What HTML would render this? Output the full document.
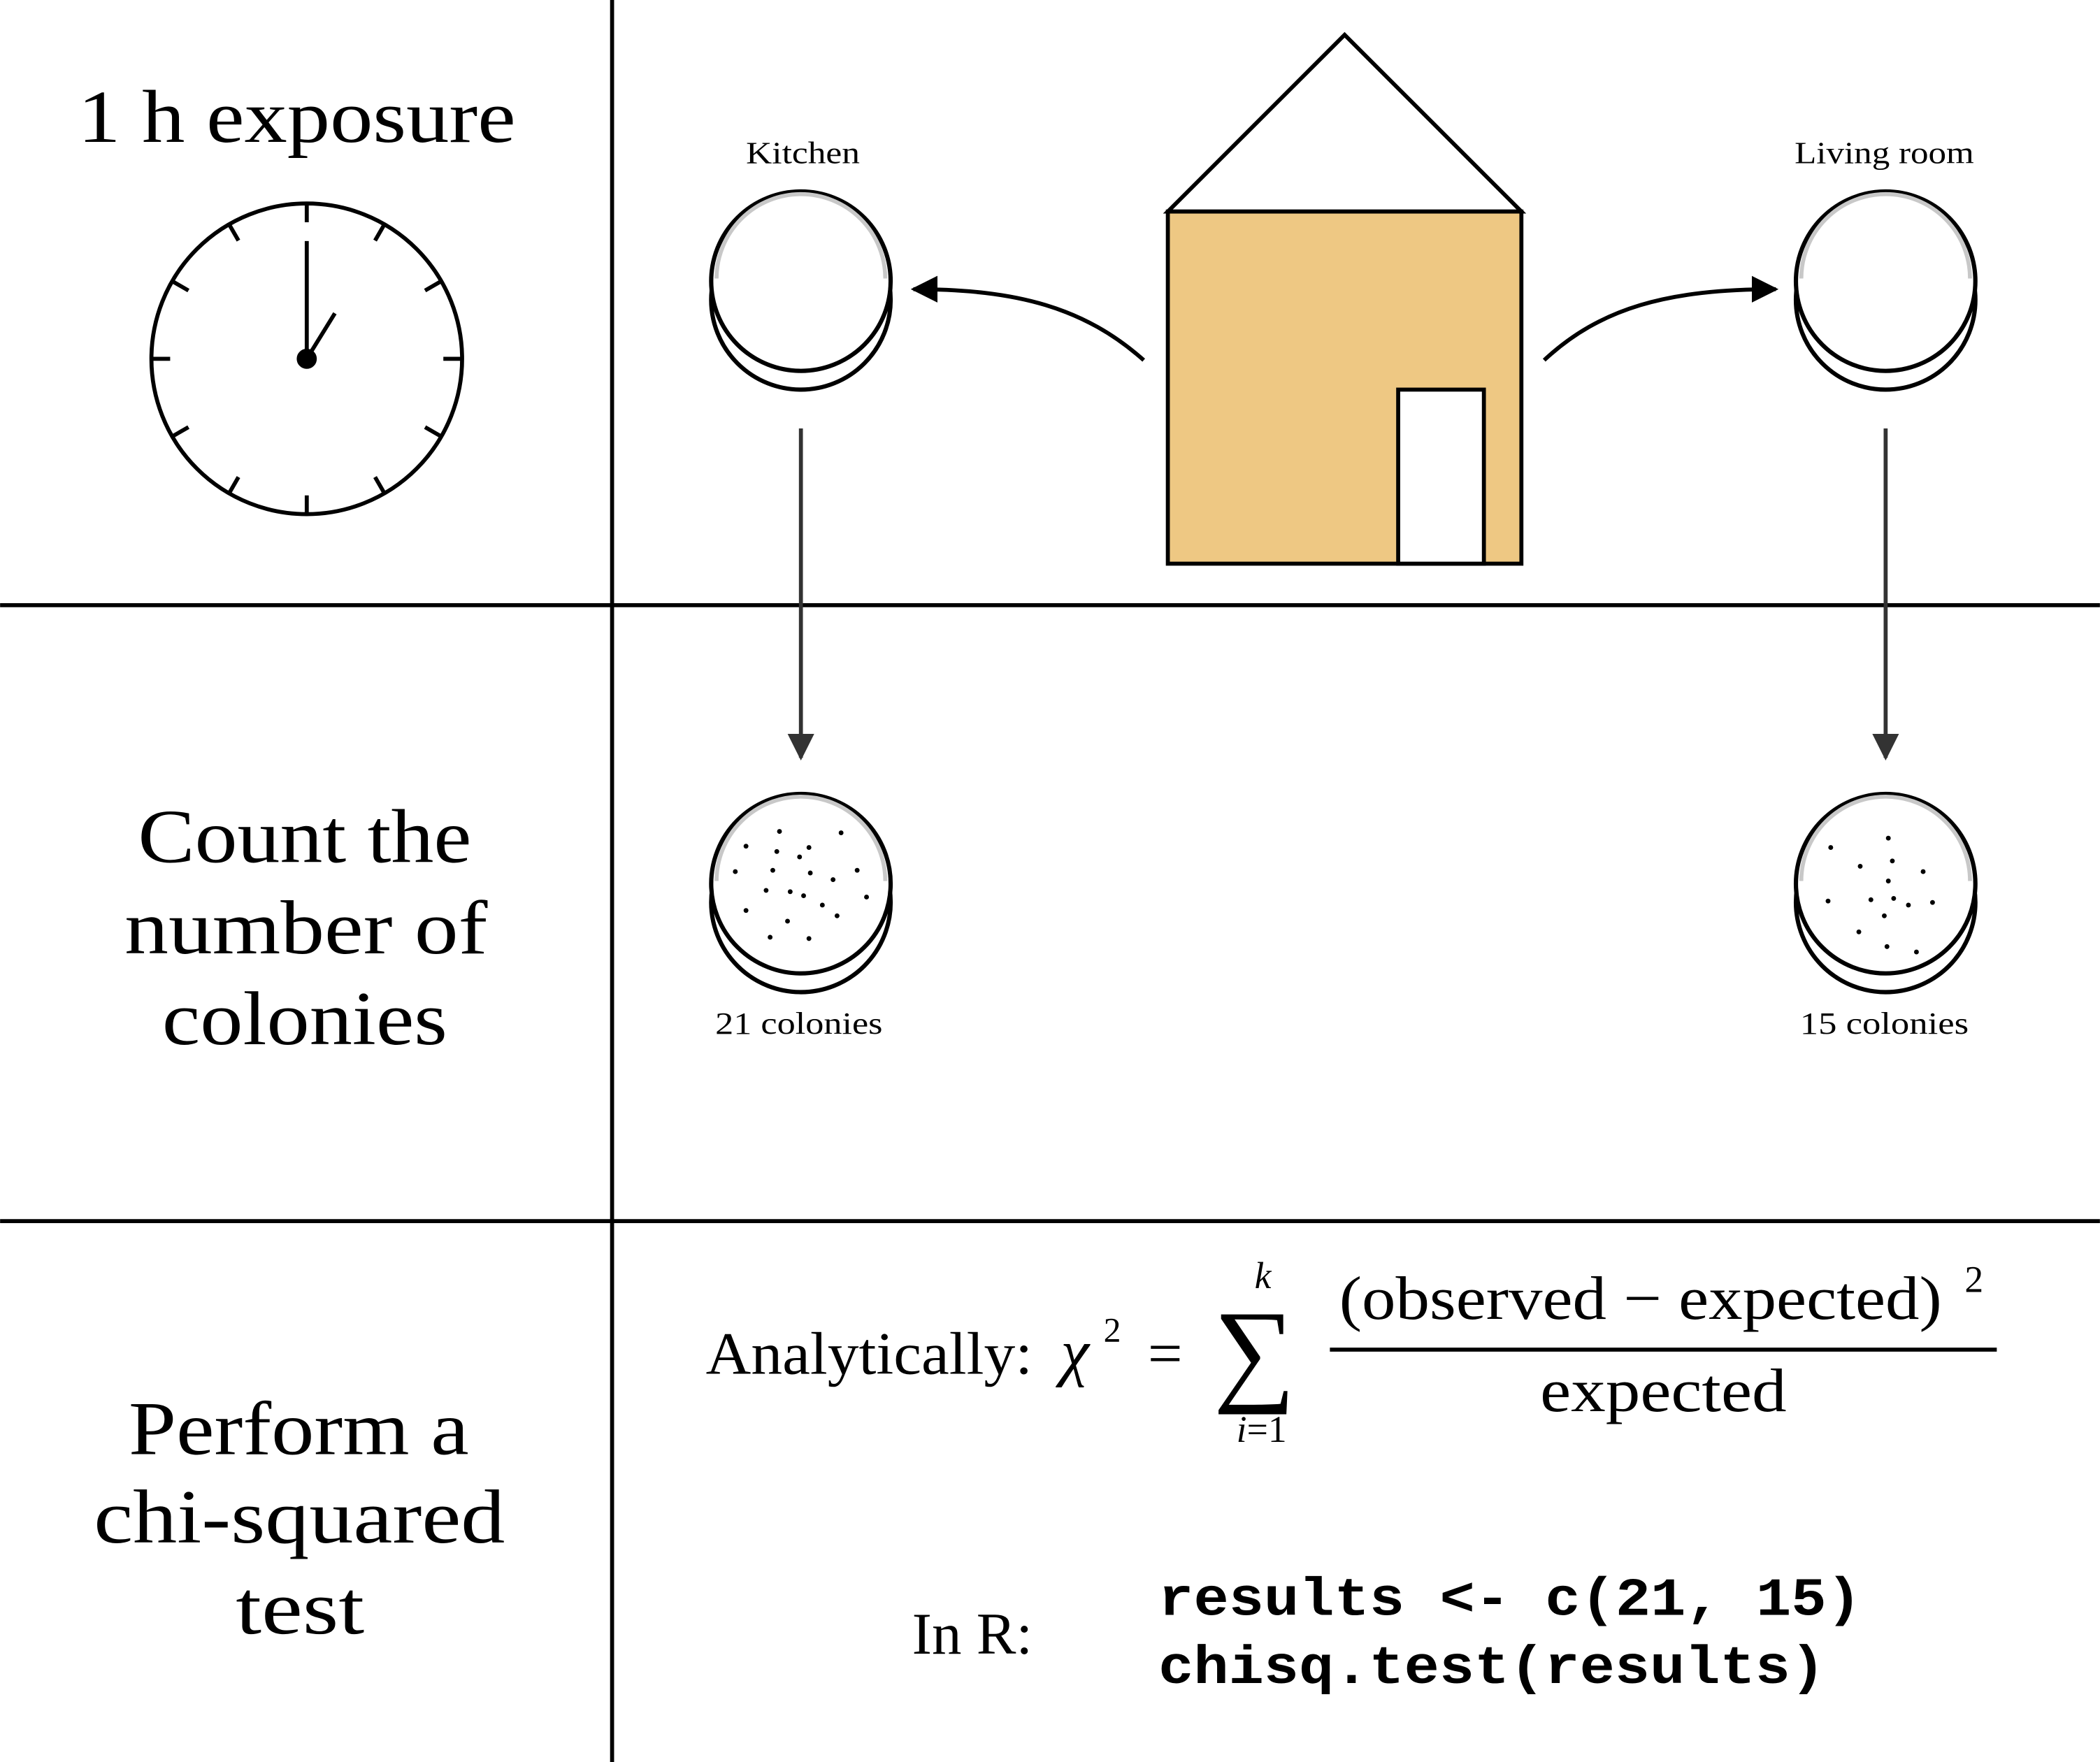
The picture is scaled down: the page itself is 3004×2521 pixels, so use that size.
<!DOCTYPE html>
<html><head><meta charset="utf-8"><style>
html,body{margin:0;padding:0;background:#fff;}
svg{display:block;}
.serif{font-family:"Liberation Serif","DejaVu Serif",serif;}
.sans{font-family:"Liberation Sans","DejaVu Sans",sans-serif;}
.mono{font-family:"Liberation Mono","DejaVu Sans Mono",monospace;font-weight:bold;}
</style></head><body>
<svg width="3004" height="2521" viewBox="0 0 1568 1316" xmlns="http://www.w3.org/2000/svg">
<defs>
<marker id="ah2" markerWidth="20" markerHeight="20" refX="18" refY="10" orient="auto" markerUnits="userSpaceOnUse" viewBox="0 0 20 20">
<path d="M0,0 L20,10 L0,20 z" fill="#333"/></marker>
<marker id="ah3" markerWidth="20" markerHeight="20" refX="18" refY="10" orient="auto" markerUnits="userSpaceOnUse" viewBox="0 0 20 20">
<path d="M0,0 L20,10 L0,20 z" fill="#000"/></marker>
<g id="dish">
<circle cx="0" cy="14" r="67" fill="#fff" stroke="#000" stroke-width="3.2"/>
<circle cx="0" cy="0" r="67" fill="#fff" stroke="#000" stroke-width="3.2"/>
<path d="M-63,-2 A63,63 0 0 1 63,-2" fill="none" stroke="#c8c8c8" stroke-width="3"/>
</g>
</defs>
<rect width="1568" height="1316" fill="#fff"/>
<line x1="457" y1="0" x2="457" y2="1316" stroke="#000" stroke-width="3"/>
<line x1="0" y1="452" x2="1568" y2="452" stroke="#000" stroke-width="3"/>
<line x1="0" y1="912" x2="1568" y2="912" stroke="#000" stroke-width="3"/>

<text class="serif" x="58" y="106" font-size="56" textLength="327" lengthAdjust="spacingAndGlyphs">1 h exposure</text>
<g transform="translate(229,268)" stroke="#000" stroke-width="3" fill="none">
<circle r="116"/>
<line x1="0" y1="-116" x2="0" y2="-102"/>
<line x1="0" y1="-116" x2="0" y2="-102" transform="rotate(30)"/>
<line x1="0" y1="-116" x2="0" y2="-102" transform="rotate(60)"/>
<line x1="0" y1="-116" x2="0" y2="-102" transform="rotate(90)"/>
<line x1="0" y1="-116" x2="0" y2="-102" transform="rotate(120)"/>
<line x1="0" y1="-116" x2="0" y2="-102" transform="rotate(150)"/>
<line x1="0" y1="-116" x2="0" y2="-102" transform="rotate(180)"/>
<line x1="0" y1="-116" x2="0" y2="-102" transform="rotate(210)"/>
<line x1="0" y1="-116" x2="0" y2="-102" transform="rotate(240)"/>
<line x1="0" y1="-116" x2="0" y2="-102" transform="rotate(270)"/>
<line x1="0" y1="-116" x2="0" y2="-102" transform="rotate(300)"/>
<line x1="0" y1="-116" x2="0" y2="-102" transform="rotate(330)"/>
<line x1="0" y1="0" x2="0" y2="-88"/>
<line x1="0" y1="0" x2="21" y2="-34"/>
<circle r="6" fill="#000"/>
</g>

<text class="serif" x="557" y="122" font-size="23" textLength="85" lengthAdjust="spacingAndGlyphs">Kitchen</text>
<text class="serif" x="1340" y="122" font-size="23" textLength="134" lengthAdjust="spacingAndGlyphs">Living room</text>
<use href="#dish" x="598" y="210"/>
<use href="#dish" x="1408" y="210"/>

<polygon points="1004,26 872,158 1136,158" fill="#fff" stroke="#000" stroke-width="3"/>
<rect x="872" y="158" width="264" height="263" fill="#EEC883" stroke="#000" stroke-width="3"/>
<rect x="1044" y="291" width="64" height="130" fill="#fff" stroke="#000" stroke-width="3"/>

<path d="M854,269 C810,230 760,216 682,216" fill="none" stroke="#000" stroke-width="3" marker-end="url(#ah3)"/>
<path d="M1153,269 C1195,230 1245,216 1326,216" fill="none" stroke="#000" stroke-width="3" marker-end="url(#ah3)"/>

<line x1="598" y1="320" x2="598" y2="566" stroke="#333" stroke-width="3" marker-end="url(#ah2)"/>
<line x1="1408" y1="320" x2="1408" y2="566" stroke="#333" stroke-width="3" marker-end="url(#ah2)"/>

<use href="#dish" x="598" y="660"/>
<use href="#dish" x="1408" y="660"/>
<g fill="#000">
<circle cx="582" cy="621" r="1.8"/><circle cx="557" cy="632" r="1.8"/><circle cx="580" cy="636" r="1.8"/><circle cx="597" cy="640" r="1.8"/><circle cx="604" cy="633" r="1.8"/><circle cx="628" cy="622" r="1.8"/><circle cx="549" cy="651" r="1.8"/><circle cx="577" cy="650" r="1.8"/><circle cx="605" cy="652" r="1.8"/><circle cx="622" cy="657" r="1.8"/><circle cx="640" cy="650" r="1.8"/><circle cx="572" cy="665" r="1.8"/><circle cx="590" cy="666" r="1.8"/><circle cx="600" cy="669" r="1.8"/><circle cx="614" cy="676" r="1.8"/><circle cx="647" cy="670" r="1.8"/><circle cx="557" cy="680" r="1.8"/><circle cx="588" cy="688" r="1.8"/><circle cx="625" cy="684" r="1.8"/><circle cx="575" cy="700" r="1.8"/><circle cx="604" cy="701" r="1.8"/>
<circle cx="1410" cy="626" r="1.8"/><circle cx="1367" cy="633" r="1.8"/><circle cx="1389" cy="647" r="1.8"/><circle cx="1413" cy="643" r="1.8"/><circle cx="1436" cy="651" r="1.8"/><circle cx="1410" cy="658" r="1.8"/><circle cx="1365" cy="673" r="1.8"/><circle cx="1397" cy="672" r="1.8"/><circle cx="1414" cy="671" r="1.8"/><circle cx="1425" cy="676" r="1.8"/><circle cx="1443" cy="674" r="1.8"/><circle cx="1407" cy="684" r="1.8"/><circle cx="1388" cy="696" r="1.8"/><circle cx="1409" cy="707" r="1.8"/><circle cx="1431" cy="711" r="1.8"/>
</g>
<text class="serif" x="534" y="772" font-size="23" textLength="125" lengthAdjust="spacingAndGlyphs">21 colonies</text>
<text class="serif" x="1344" y="772" font-size="23" textLength="126" lengthAdjust="spacingAndGlyphs">15 colonies</text>

<g class="serif" font-size="57">
<text x="103" y="644" textLength="249" lengthAdjust="spacingAndGlyphs">Count the</text>
<text x="93" y="712" textLength="271" lengthAdjust="spacingAndGlyphs">number of</text>
<text x="121" y="780" textLength="213" lengthAdjust="spacingAndGlyphs">colonies</text>
<text x="96" y="1086" textLength="254" lengthAdjust="spacingAndGlyphs">Perform a</text>
<text x="70" y="1152" textLength="307" lengthAdjust="spacingAndGlyphs">chi-squared</text>
<text x="176" y="1220" textLength="96" lengthAdjust="spacingAndGlyphs">test</text>
</g>

<text class="serif" x="527" y="1026" font-size="45" textLength="244" lengthAdjust="spacingAndGlyphs">Analytically:</text>
<text class="serif" x="792" y="1026" font-size="48" font-style="italic">χ</text>
<text class="serif" x="824" y="1002" font-size="26">2</text>
<text class="serif" x="857" y="1026" font-size="46">=</text>
<text class="serif" x="906" y="1038" font-size="86">∑</text>
<text class="serif" x="943" y="962" font-size="28" font-style="italic" text-anchor="middle">k</text>
<text class="serif" x="942" y="1077" font-size="28" text-anchor="middle"><tspan font-style="italic">i</tspan>=1</text>
<text class="serif" x="1000" y="985" font-size="46" textLength="450" lengthAdjust="spacingAndGlyphs">(observed − expected)</text>
<text class="serif" x="1467" y="965" font-size="28">2</text>
<line x1="993" y1="1008" x2="1491" y2="1008" stroke="#000" stroke-width="3"/>
<text class="serif" x="1150" y="1054" font-size="46" textLength="184" lengthAdjust="spacingAndGlyphs">expected</text>

<text class="serif" x="681" y="1235" font-size="44" textLength="90" lengthAdjust="spacingAndGlyphs">In R:</text>
<text class="mono" x="865" y="1206" font-size="40" textLength="525" lengthAdjust="spacingAndGlyphs">results &lt;- c(21, 15)</text>
<text class="mono" x="865" y="1257" font-size="40" textLength="498" lengthAdjust="spacingAndGlyphs">chisq.test(results)</text>
</svg>
</body></html>
